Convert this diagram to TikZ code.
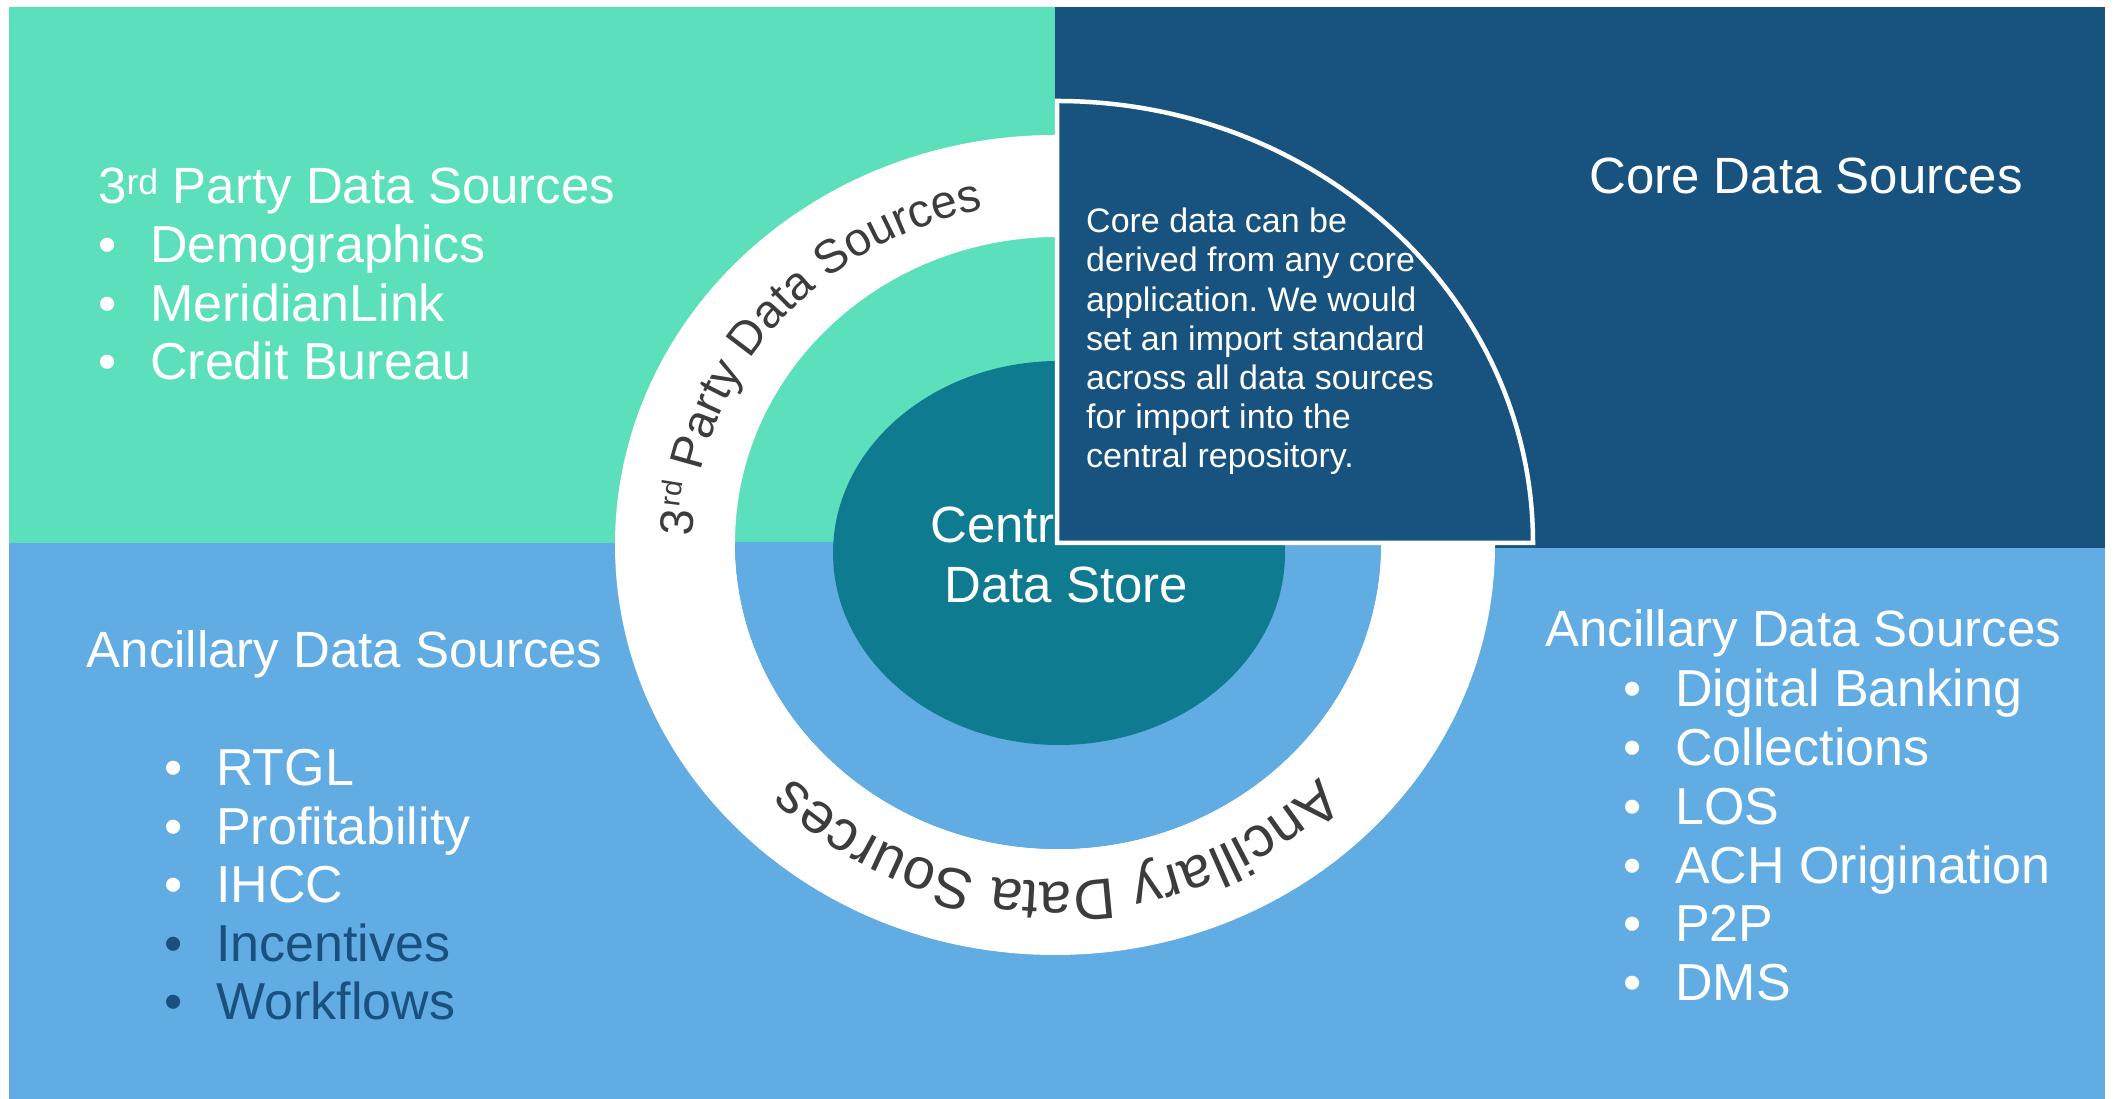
\documentclass[tikz,border=0pt]{standalone}
\usepackage{fontspec}
\setmainfont{Liberation Sans}
\usetikzlibrary{decorations.text}
\definecolor{tpgreen}{HTML}{5CE0BC}
\definecolor{coreblue}{HTML}{17537E}
\definecolor{ancblue}{HTML}{61ACE3}
\definecolor{hubteal}{HTML}{0E7B90}
\definecolor{ringgray}{HTML}{3C3C3C}
\definecolor{itemdark}{HTML}{1A5080}
\newcommand\headfont{\fontsize{51}{60}\selectfont}
\newcommand\itemfont{\fontsize{52}{60}\selectfont}
\newcommand\parafont{\fontsize{34}{39}\selectfont}
\newcommand\ringtopfont{\fontsize{47}{50}\selectfont}
\newcommand\ringsupfont{\fontsize{28.5}{30}\selectfont}
\newcommand\ringbotfont{\fontsize{57.5}{60}\selectfont}
\frenchspacing
\begin{document}
\begin{tikzpicture}[x=1pt,y=1pt,
  txt/.style={inner sep=0pt, anchor=base west, text=white},
  itemtxt/.style={txt, font=\itemfont},
  bul/.style={inner sep=0pt, anchor=base, text=white, font=\itemfont},
  ringtext/.style={decorate, decoration={text along path, text color=ringgray}}]
\useasboundingbox (0,0) rectangle (2113,1099);
\fill[white] (0,0) rectangle (2113,1099);
% background quadrants
\fill[ancblue] (9,0) rectangle (2105,556);
\fill[tpgreen] (9,556) rectangle (1055,1092);
\fill[coreblue] (1055,551) rectangle (2105,1092);
% white ring
\fill[white, even odd rule] (1055,554) ellipse[x radius=440, y radius=410]
  (1058,556) ellipse[x radius=323, y radius=306];
\begin{scope}
  \clip (600,0) rectangle (1500,556);
  \fill[ancblue] (1058,556) ellipse[x radius=323, y radius=306];
\end{scope}
% central store
\fill[hubteal] (1059,546) ellipse[x radius=226, y radius=192];
\node[txt, font=\headfont] (centralA) at (930,556) {Central};
\node[txt, font=\headfont] (centralB) at (944,496.3) {Data Store};
% core pie
\filldraw[fill=coreblue, draw=white, line width=4.5pt, line join=miter]
  (1057,556) -- ++(476,0) arc[start angle=0, end angle=90, x radius=476, y radius=442] -- cycle;
\foreach \t [count=\i] in {Core data can be, derived from any core, application. We would,
  set an import standard, across all data sources, for import into the, central repository.}
  \node[txt, font=\parafont] (core\i) at (1086,{866.3-(\i-1)*39.17}) {\t};
% ring texts
\path[ringtext, decoration={text={|\ringtopfont|3}, text align=left}]
  (1056,555) ++(178.8:363pt and 341pt) arc[start angle=178.8, end angle=90, x radius=363pt, y radius=341pt];
\path[ringtext, decoration={text={|\ringsupfont|rd}, text align={left, left indent=27.2pt}, raise=15.5pt}]
  (1056,555) ++(178.8:363pt and 341pt) arc[start angle=178.8, end angle=90, x radius=363pt, y radius=341pt];
\path[ringtext, decoration={text={|\ringtopfont|Party Data Sources}, text align={left, left indent=65.6pt}}]
  (1056,555) ++(178.8:363pt and 341pt) arc[start angle=178.8, end angle=90, x radius=363pt, y radius=341pt];
\path[ringtext, decoration={text={|\ringbotfont|Ancillary Data Sources}, text align=center}]
  (1056,555) ++(-30:363pt and 338pt) arc[start angle=-30, end angle=-150, x radius=363pt, y radius=338pt];
% top-left block
\node[txt, font=\headfont] (tpHead) at (98,895) {3\textsuperscript{rd} Party Data Sources};
\foreach \t/\yy/\n in {Demographics/836/tpA, MeridianLink/777.5/tpB, Credit Bureau/719/tpC}{
  \node[bul] (\n b) at (108,\yy) {•};
  \node[itemtxt] (\n) at (150,\yy) {\t};
}
% top-right heading
\node[txt, font=\headfont] (coreHead) at (1589,905) {Core Data Sources};
% bottom-left block
\node[txt, font=\headfont] (ancLHead) at (86.5,431.5) {Ancillary Data Sources};
\foreach \t/\yy/\n in {RTGL/313/alA, Profitability/254.5/alB, IHCC/196/alC}{
  \node[bul] (\n b) at (174,\yy) {•};
  \node[itemtxt] (\n) at (216,\yy) {\t};
}
\foreach \t/\yy/\n in {Incentives/137/alD, Workflows/79/alE}{
  \node[bul, text=itemdark] (\n b) at (174,\yy) {•};
  \node[itemtxt, text=itemdark] (\n) at (216,\yy) {\t};
}
% bottom-right block
\node[txt, font=\headfont] (ancRHead) at (1545,452) {Ancillary Data Sources};
\foreach \t/\yy/\n in {Digital Banking/392/arA, Collections/333/arB, LOS/274/arC,
  ACH Origination/215/arD, P2P/157/arE, DMS/98/arF}{
  \node[bul] (\n b) at (1633,\yy) {•};
  \node[itemtxt] (\n) at (1675,\yy) {\t};
}
\end{tikzpicture}
\end{document}
